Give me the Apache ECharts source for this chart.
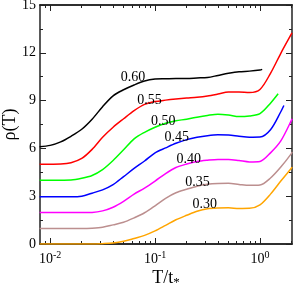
<!DOCTYPE html>
<html><head><meta charset="utf-8">
<script src="https://cdn.jsdelivr.net/npm/echarts@6/dist/echarts.min.js"></script>
<style>html,body{margin:0;padding:0;background:#fff}#c{width:294px;height:286px}</style>
</head><body><div id="c"></div>
<script>
// ---- data (T on log axis, rho values) ----
const T_GRID = [0.00794,0.0100,0.0126,0.0158,0.0200,0.0251,0.0316,0.0398,0.0501,0.0631,0.0794,0.100,0.126,0.158,0.200,0.251,0.316,0.398,0.501,0.631,0.794,1.00,1.26,1.58,2.00];
const rho060 = [6.10,6.19,6.41,6.76,7.20,7.83,8.62,9.30,9.68,9.98,10.23,10.35,10.37,10.39,10.39,10.42,10.45,10.58,10.71,10.81,10.85,10.92];
const rho055 = [5.00,5.01,5.02,5.10,5.37,5.94,6.70,7.33,7.86,8.37,8.76,8.94,9.03,9.10,9.16,9.21,9.29,9.41,9.54,9.54,9.51,9.70,10.71,11.97,13.20];
const rho050 = [4.00,4.00,4.00,4.01,4.12,4.30,4.67,5.24,5.91,6.60,7.01,7.33,7.58,7.74,7.83,7.96,8.07,8.15,8.10,8.00,8.04,8.18,8.84];
const rho045 = [2.96,2.96,2.96,2.96,3.00,3.19,3.40,3.73,4.23,4.74,5.21,5.72,6.03,6.32,6.55,6.70,6.80,6.85,6.84,6.76,6.70,6.71,7.17,8.30];
const rho040 = [1.97,1.97,1.97,1.97,1.97,1.98,2.08,2.31,2.68,3.13,3.51,3.95,4.42,4.80,5.02,5.18,5.26,5.31,5.31,5.24,5.15,5.18,5.72,6.47,7.77];
const rho035 = [0.97,0.97,0.97,0.97,0.97,0.99,1.05,1.20,1.36,1.64,1.96,2.40,2.87,3.22,3.44,3.63,3.75,3.80,3.81,3.74,3.68,3.70,4.14,4.83,5.69];
const rho030 = [0.00,0.00,0.00,0.00,0.00,0.00,0.02,0.06,0.17,0.35,0.54,0.82,1.17,1.52,1.80,2.05,2.21,2.26,2.27,2.23,2.24,2.46,3.13,3.95,4.77];
// last point of each curve [T, rho]
const tails = {
  '0.60': [1.05, 10.96], '0.55': [2.02, 13.25], '0.50': [1.49, 9.43], '0.45': [1.69, 8.69],
  '0.40': [2.02, 7.86], '0.35': [2.02, 5.78], '0.30': [2.02, 4.83]
};
const curveNames = ['0.60','0.55','0.50','0.45','0.40','0.35','0.30'];
const curveRho = [rho060, rho055, rho050, rho045, rho040, rho035, rho030];
const curveColors = ['#000000','#ff0000','#00ff00','#0000ff','#ff00ff','#bc8f8f','#ffa500'];
// label anchor positions [T, rho]
const labelPos = [[0.0616,10.45],[0.0887,9.03],[0.120,7.72],[0.161,6.70],[0.2095,5.32],[0.254,3.85],[0.297,2.50]];
const X_MIN = 0.008, X_MAX = 2.02;
const Y_MIN = 0, Y_MAX = 15, Y_STEP = 3;
const xTickExps = [-2, -1, 0];

// ---- build ----
const LMIN = Math.log10(X_MIN), LMAX = Math.log10(X_MAX);
const xMinor = [];
for (let n = -3; n <= 0; n++) for (let k = 2; k <= 9; k++) {
  const v = Math.log10(k) + n; if (v > LMIN && v < LMAX) xMinor.push(v);
}
const FONT = 'Liberation Serif, Times New Roman, serif';
const lineStyle = {color: '#222', width: 1.5};
function tickAxis(pos, values, len, withLabels) {
  return {
    type: 'value', position: pos, min: LMIN, max: LMAX, gridIndex: 0,
    axisLine: {show: true, onZero: false, lineStyle},
    axisTick: {show: true, inside: true, length: len, customValues: values, lineStyle: {color: '#222', width: 1}},
    axisLabel: withLabels ? {
      show: true, customValues: xTickExps, margin: 6,
      formatter: v => '{b|10}{s|' + Math.round(v) + '}',
      rich: {b: {fontSize: 14, fontFamily: FONT, color: '#000'}, s: {fontSize: 10, fontFamily: FONT, color: '#000', padding: [0,0,8,0]}}
    } : {show: false},
    splitLine: {show: false}
  };
}
const xAxes = [
  {type: 'log', logBase: 10, min: X_MIN, max: X_MAX, show: false},
  Object.assign(tickAxis('bottom', xTickExps, 6, true), {
    name: 'T/t{s|*}', nameLocation: 'middle', nameGap: 24, nameMoveOverlap: false,
    nameTextStyle: {fontSize: 18, fontFamily: FONT, color: '#000',
      rich: {s: {fontSize: 13, fontFamily: FONT, color: '#000', padding: [8,0,0,0]}}}
  }),
  tickAxis('bottom', xMinor, 3, false),
  tickAxis('top', xTickExps, 6, false),
  tickAxis('top', xMinor, 3, false)
];
function yAx(pos, labels) {
  return {
    type: 'value', position: pos, min: Y_MIN, max: Y_MAX, interval: Y_STEP,
    axisLine: {show: true, onZero: false, lineStyle},
    axisTick: {show: true, inside: true, length: 6, lineStyle: {color: '#222', width: 1}},
    minorTick: {show: true, splitNumber: 2, length: 3, lineStyle: {color: '#222', width: 1}},
    axisLabel: labels ? {show: true, fontSize: 14, fontFamily: FONT, color: '#000', margin: 4} : {show: false},
    splitLine: {show: false},
    name: labels ? 'ρ(T)' : '', nameLocation: 'middle', nameGap: 21, nameRotate: 90, nameMoveOverlap: false,
    nameTextStyle: {fontSize: 18, fontFamily: FONT, color: '#000'}
  };
}
const series = curveNames.map((nm, i) => {
  const data = curveRho[i].map((r, j) => [T_GRID[j], r]);
  data.push(tails[nm]);
  return {
    type: 'line', name: nm, xAxisIndex: 0, yAxisIndex: 0, data,
    smooth: 0.3, showSymbol: false, symbol: 'none', clip: true,
    lineStyle: {color: curveColors[i], width: 1.5},
    markPoint: {
      symbol: 'circle', symbolSize: 1, itemStyle: {color: 'rgba(0,0,0,0)'},
      label: {show: true, position: 'inside', formatter: nm, color: '#000', fontSize: 14, fontFamily: FONT},
      data: [{coord: labelPos[i]}]
    }
  };
});
const chart = echarts.init(document.getElementById('c'), null, {renderer: 'canvas'});
chart.setOption({
  animation: false,
  backgroundColor: '#fff',
  grid: {left: 40, right: 2, top: 5, bottom: 42, containLabel: false, outerBoundsMode: 'none'},
  xAxis: xAxes,
  yAxis: [yAx('left', true), yAx('right', false)],
  series
});
</script></body></html>
